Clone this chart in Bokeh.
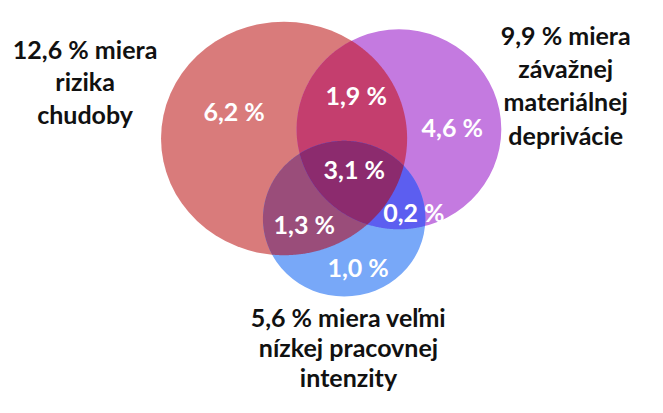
import numpy as np
from bokeh.plotting import figure
from bokeh.models import ColumnDataSource
from bokeh.core.properties import value
from bokeh.embed import file_html
from bokeh.resources import INLINE

# ---- data ----
set_labels = [
    "12,6 % miera\nrizika\nchudoby",
    "9,9 % miera\nzávažnej\nmateriálnej\ndeprivácie",
    "5,6 % miera veľmi\nnízkej pracovnej\nintenzity",
]
region_names = ["R", "P", "B", "RP", "RB", "PB", "RPB"]
region_values = ["6,2 %", "4,6 %", "1,0 %", "1,9 %", "1,3 %", "0,2 %", "3,1 %"]

# ---- layout (pixel coordinates of the reference picture) ----
W, H = 647, 397
ell = {  # cx, cy, rx, ry
    "R": (295, 143.5, 128, 121.5),
    "P": (414.5, 134, 106.5, 104),
    "B": (357.5, 227, 84.5, 81),
}
colors = {
    "R": "#d97b7b", "P": "#c47ae0", "B": "#78a8f8",
    "RP": "#c43e6e", "RB": "#9a4d7a", "PB": "#5c5ef0", "RPB": "#8c2b6e",
}
value_pos = {
    "R": (243, 115), "P": (470, 132), "B": (372, 277),
    "RP": (370, 98), "RB": (316, 233), "PB": (430, 220), "RPB": (368, 175),
}
label_pos = [(88, 50), (588, 36), (362, 329)]
line_gap = [34, 34.5, 31.5]

# map reference picture (663x413) onto the 647x397 figure
S = H / 413.0
p = figure(width=W, height=H, x_range=(0, W / S), y_range=(413, 0),
           output_backend="svg", toolbar_location=None, min_border=0)
p.axis.visible = False
p.grid.visible = False
p.outline_line_color = None
p.background_fill_color = "white"
p.border_fill_color = "white"

def boundary(key, n=720):
    cx, cy, rx, ry = ell[key]
    t = np.linspace(0, 2 * np.pi, n, endpoint=False)
    return cx + rx * np.cos(t), cy + ry * np.sin(t)

def inside(key, x, y):
    cx, cy, rx, ry = ell[key]
    return ((x - cx) / rx) ** 2 + ((y - cy) / ry) ** 2 <= 1.0 + 1e-9

def intersection(keys):
    xs, ys = [], []
    for k in keys:
        bx, by = boundary(k)
        m = np.ones_like(bx, dtype=bool)
        for o in keys:
            if o != k:
                m &= inside(o, bx, by)
        xs.append(bx[m]); ys.append(by[m])
    xs = np.concatenate(xs); ys = np.concatenate(ys)
    mx, my = xs.mean(), ys.mean()
    order = np.argsort(np.arctan2(ys - my, xs - mx))
    return xs[order], ys[order]

for k in ["R", "P", "B"]:
    cx, cy, rx, ry = ell[k]
    p.ellipse(x=[cx], y=[cy], width=[2 * rx], height=[2 * ry],
              fill_color=colors[k], line_color=None)

for k in ["RP", "RB", "PB", "RPB"]:
    px, py = intersection(list(k))
    p.patch(px, py, fill_color=colors[k], line_color=None)

font = value("Lato")
fs = "%dpx" % round(26 * S)
src = ColumnDataSource(dict(
    x=[value_pos[k][0] for k in region_names],
    y=[value_pos[k][1] for k in region_names],
    t=region_values))
p.text(x="x", y="y", text="t", source=src, text_font=font,
       text_font_style="bold", text_font_size=fs, text_color="white",
       text_align="center", text_baseline="middle")

for lab, (lx, ly), g in zip(set_labels, label_pos, line_gap):
    lines = lab.split("\n")
    p.text(x=[lx] * len(lines), y=[ly + i * g for i in range(len(lines))],
           text=lines, text_font=font, text_font_style="bold",
           text_font_size=fs, text_color="#111111",
           text_align="center", text_baseline="middle")

open("out.html", "w").write(file_html(p, INLINE))
